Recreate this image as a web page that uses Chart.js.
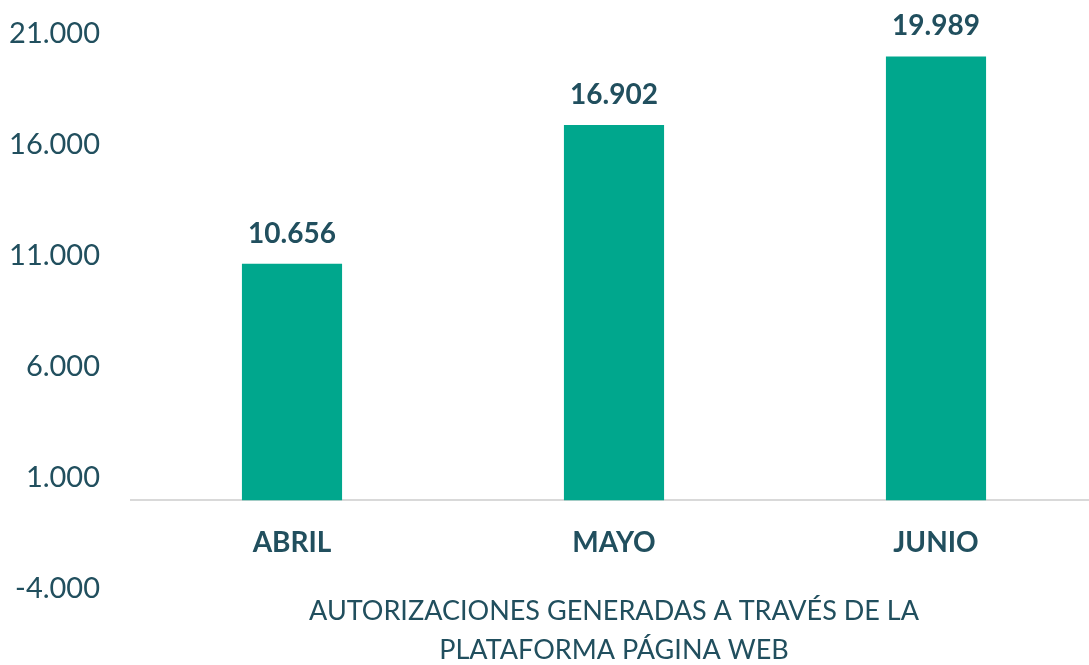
<!DOCTYPE html>
<html>
<head>
<meta charset="utf-8">
<script src="https://cdn.jsdelivr.net/npm/chart.js@4.4.0/dist/chart.umd.min.js"></script>
<style>
  html, body { margin: 0; padding: 0; background: #fff; overflow: hidden; }
  #wrap { width: 1097px; height: 665px; position: relative; }
</style>
</head>
<body>
<div id="wrap"><canvas id="myChart"></canvas></div>
<script>
// chart data
const months = ['ABRIL', 'MAYO', 'JUNIO'];
const autorizaciones = [10656, 16902, 19989];
const yTicks = [-4000, 1000, 6000, 11000, 16000, 21000];
const axisTitle = ['AUTORIZACIONES GENERADAS A TRAVÉS DE LA', 'PLATAFORMA PÁGINA WEB'];

const textColor = '#214f5e';
const barColor = '#00a78d';

// 12345 -> "12.345"
function formatNum(v) {
    const s = Math.abs(v).toFixed(0).replace(/\B(?=(\d{3})+(?!\d))/g, '.');
    return (v < 0 ? '-' : '') + s;
}

// draws the value above each bar
const valueLabels = {
    id: 'valueLabels',
    afterDatasetsDraw(chart) {
        const ctx = chart.ctx;
        const meta = chart.getDatasetMeta(0);
        ctx.save();
        ctx.font = 'bold 28px Lato';
        ctx.fillStyle = textColor;
        ctx.textAlign = 'center';
        ctx.textBaseline = 'middle';
        meta.data.forEach((bar, i) => {
            ctx.fillText(formatNum(chart.data.datasets[0].data[i]), bar.x, bar.y - 30);
        });
        ctx.restore();
    }
};

const ctx = document.getElementById('myChart').getContext('2d');

const myChart = new Chart(ctx, {
    type: 'bar',
    data: {
        labels: months,
        datasets: [{
            data: autorizaciones,
            backgroundColor: barColor,
            borderWidth: 0,
            categoryPercentage: 1,
            barPercentage: 0.311,
            xAxisID: 'x',
            yAxisID: 'y'
        }]
    },
    options: {
        responsive: true,
        maintainAspectRatio: false,
        animation: false,
        layout: {
            padding: { top: 34, left: 0, right: 0, bottom: 0 }
        },
        plugins: {
            legend: { display: false },
            tooltip: { enabled: false }
        },
        scales: {
            x: {
                position: { y: 0 },
                grid: { display: false },
                border: { display: true, color: '#d9d9d9', width: 2 },
                ticks: {
                    color: textColor,
                    font: { family: 'Lato', size: 28, weight: 'bold' },
                    padding: 18
                }
            },
            x2: {
                type: 'category',
                position: 'bottom',
                grid: { display: false },
                border: { display: false },
                ticks: { display: false },
                afterFit: function(scale) { scale.height = 76; },
                title: {
                    display: true,
                    text: axisTitle,
                    color: textColor,
                    font: { family: 'Lato', size: 27, lineHeight: '39px' },
                    padding: { top: 0, bottom: -5 }
                }
            },
            y: {
                min: -4000,
                max: 21000,
                grid: { display: false },
                border: { display: false },
                afterBuildTicks: function(scale) {
                    scale.ticks = yTicks.map(v => ({ value: v }));
                },
                afterFit: function(scale) {
                    scale.width = 131;
                    scale.paddingTop = 0;
                    scale.paddingBottom = 0;
                },
                ticks: {
                    color: textColor,
                    font: { family: 'Lato', size: 29 },
                    padding: 23,
                    callback: function(value) { return formatNum(value); }
                }
            }
        }
    },
    plugins: [valueLabels]
});
</script>
</body>
</html>
